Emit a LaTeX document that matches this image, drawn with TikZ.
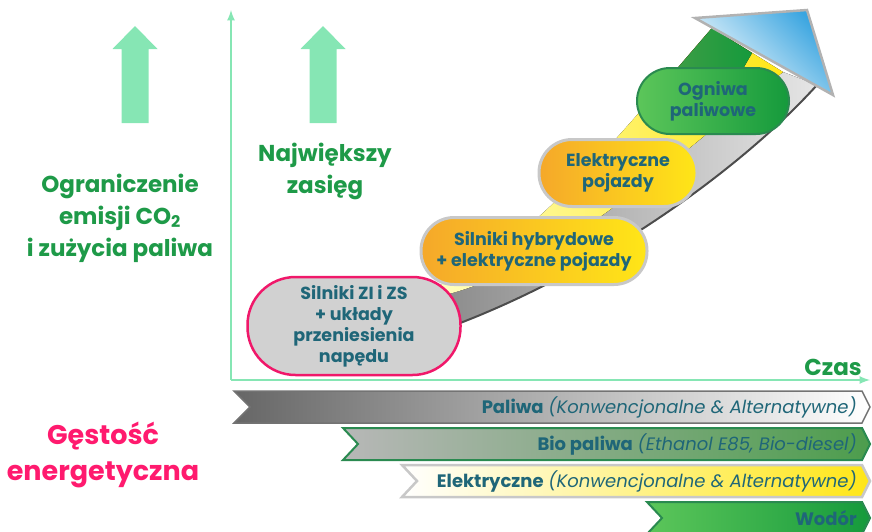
\documentclass[tikz,border=0pt]{standalone}
\usepackage{fontspec}
\setmainfont{Poppins}
\usetikzlibrary{positioning}

\definecolor{axisgreen}{HTML}{86E6B4}
\definecolor{titlegreen}{HTML}{1E9A48}
\definecolor{titlepink}{HTML}{FF1A6E}
\definecolor{tealtext}{HTML}{1F6678}
\definecolor{pinkrim}{HTML}{F0186A}
\definecolor{stagerim}{HTML}{C8C8C8}
\definecolor{stageorange}{HTML}{F5A82A}
\definecolor{stageyellow}{HTML}{FFE617}
\definecolor{leafgreen}{HTML}{5CC65A}
\definecolor{deepgreen}{HTML}{159A3C}
\definecolor{greenrim}{HTML}{2A8A50}
\definecolor{skyblue}{HTML}{3AA5E0}

\begin{document}
\begin{tikzpicture}[x=1pt,y=-1pt,
  stagebox/.style = {draw, align=center, text=tealtext, inner sep=0pt,
    font=\bfseries\fontsize{17.5}{21}\selectfont},
  warmstage/.style = {stagebox, left color=stageorange, right color=stageyellow,
    draw=stagerim, line width=3pt, rounded corners=33pt, minimum height=67pt},
  sidetext/.style = {align=center, text=titlegreen, font=\bfseries\fontsize{23}{32}\selectfont},
  bandtext/.style = {anchor=east, text=tealtext, inner sep=0pt, font=\fontsize{18}{20}\selectfont}]
\useasboundingbox (0,0) rectangle (872,531);

% axes
\coordinate (o) at (231,380);
\coordinate (ytop) at (231,10);
\coordinate (xend) at (870,380);
\draw[axisgreen, line width=2.5pt, -latex] (o) -- (ytop);
\draw[axisgreen, line width=2.5pt, -latex] (o) -- (xend);

% block arrows
\foreach \ax in {135,323}
  \fill[axisgreen] (\ax-13.5,123) -- (\ax-13.5,49) -- (\ax-22.5,49) -- (\ax,26)
    -- (\ax+22.5,49) -- (\ax+13.5,49) -- (\ax+13.5,123) -- cycle;

% ribbon
\fill[left color=black!45, right color=black!10]
  (455,325) .. controls (600,270) and (740,170) .. (817,85) -- (783,72)
  .. controls (660,170) and (560,265) .. (445,295) -- cycle;
\fill[left color=yellow!25, right color=stageyellow]
  (445,295) .. controls (560,265) and (660,170) .. (783,72) -- (712,28)
  .. controls (640,110) and (540,240) .. (440,285) -- cycle;
\fill[left color=leafgreen!80!black, right color=deepgreen]
  (650,100) -- (712,28) -- (752,53) -- (725,100) -- cycle;
\draw[black!70, line width=2pt] (455,325) .. controls (600,270) and (740,170) .. (817,85);
\draw[black!30, line width=2.5pt, top color=skyblue, bottom color=white, shading angle=-45]
  (695,18) -- (807,10) -- (833,95) -- cycle;

% stages
\node[stagebox, fill=black!18, draw=pinkrim, line width=2.5pt, rounded corners=48pt,
  minimum width=213pt, minimum height=98pt] (1) at (354,326)
  {Silniki ZI i ZS\\+ układy\\przeniesienia\\napędu};
\node[warmstage, minimum width=226pt] (2) at (534,251)
  {Silniki hybrydowe\\+ elektryczne pojazdy};
\node[warmstage, minimum width=158pt] (3) at (618,173)
  {Elektryczne\\pojazdy};
\node[stagebox, left color=leafgreen, right color=deepgreen, draw=greenrim,
  line width=2pt, rounded corners=33pt, minimum width=152pt, minimum height=66pt] (4) at (713,101)
  {Ogniwa\\paliwowe};

% side titles
\node[sidetext] (co2) at (120,218) {Ograniczenie\\emisji CO\textsubscript{2}\\i zużycia paliwa};
\node[sidetext] (range) at (325,171) {Największy\\zasięg};
\node[sidetext, above left=4pt and 8pt of xend, inner sep=0pt] (time) {Czas};
\node[sidetext, text=titlepink, font=\bfseries\fontsize{27}{36}\selectfont] (density) at (103,455)
  {Gęstość\\energetyczna};

% bands
\draw[black!55, line width=1.5pt, left color=black!60, right color=white]
  (234,391) -- (862,391) -- (870,407) -- (862,423) -- (234,423) -- (250,407) -- cycle;
\draw[greenrim, line width=2pt, left color=black!28, right color=green!45!black!70]
  (343,428) -- (862,428) -- (870,444) -- (862,460) -- (343,460) -- (358,444) -- cycle;
\draw[stagerim, line width=2.5pt, left color=white, right color=stageyellow]
  (402,465) -- (862,465) -- (870,481) -- (862,497) -- (402,497) -- (417,481) -- cycle;
\draw[greenrim, line width=2pt, left color=leafgreen, right color=deepgreen]
  (647,502) -- (862,502) -- (870,518) -- (862,534) -- (647,534) -- (662,518) -- cycle;

\node[bandtext] (fuel) at (857,407) {\textbf{Paliwa} \textit{(Konwencjonalne \& Alternatywne)}};
\node[bandtext] (bio) at (857,444) {\textbf{Bio paliwa} \textit{(Ethanol E85, Bio-diesel)}};
\node[bandtext] (elec) at (857,481) {\textbf{Elektryczne} \textit{(Konwencjonalne \& Alternatywne)}};
\node[bandtext] (h2) at (857,518) {\textbf{Wodór}};
\end{tikzpicture}
\end{document}
